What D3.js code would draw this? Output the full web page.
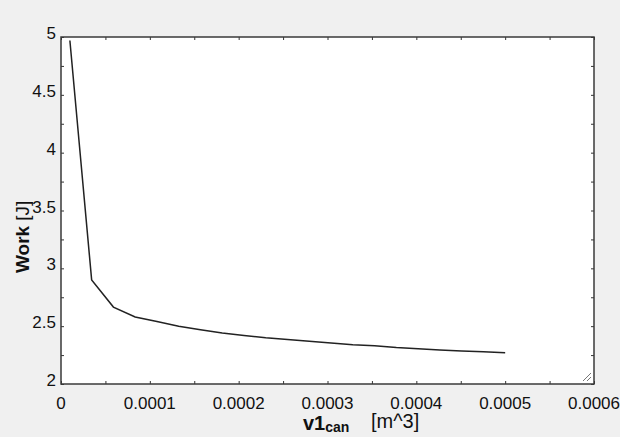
<!DOCTYPE html>
<html><head><meta charset="utf-8">
<script src="https://cdn.jsdelivr.net/npm/d3@7"></script>
<style>html,body{margin:0;padding:0;background:#f0f0f0;}svg{display:block;}</style>
</head><body>
<svg id="c" width="620" height="437"></svg>
<script>
const volumes = [0.00001,0.0000345,0.000059,0.0000835,0.000108,0.0001325,0.000157,0.0001815,0.000206,0.0002305,0.000255,0.0002795,0.000304,0.0003285,0.000353,0.0003775,0.000402,0.0004265,0.000451,0.0004755,0.0005];
const work = [4.97,2.90,2.665,2.58,2.54,2.50,2.47,2.44,2.42,2.40,2.385,2.37,2.355,2.34,2.33,2.315,2.305,2.295,2.285,2.278,2.27];
const xTicks = [0,0.0001,0.0002,0.0003,0.0004,0.0005,0.0006];
const xTickLabels = ["0","0.0001","0.0002","0.0003","0.0004","0.0005","0.0006"];
const yTicks = [2,2.5,3,3.5,4,4.5,5];
const yTickLabels = ["2","2.5","3","3.5","4","4.5","5"];

const svg = d3.select("#c");
const L=61,R=594,T=37,B=384;
const x = d3.scaleLinear().domain([0,0.0006]).range([L,R]);
const y = d3.scaleLinear().domain([2,5]).range([B,T]);
const font = "'Liberation Sans', Arial, sans-serif";

svg.append("rect").attr("width",620).attr("height",437).attr("fill","#f0f0f0");
svg.append("rect").attr("x",L).attr("y",T).attr("width",R-L).attr("height",B-T).attr("fill","#fff");

const minorX = d3.range(0,13).map(i=>i*0.00005);
const minorY = d3.range(0,13).map(i=>2+i*0.25);
const tcol="#333";
svg.append("g").attr("transform",`translate(0,${B})`)
  .call(d3.axisBottom(x).tickValues(minorX).tickSize(-3).tickFormat(""))
  .call(g=>{g.select(".domain").remove();g.selectAll("line").attr("stroke",tcol);});
svg.append("g").attr("transform",`translate(0,${T})`)
  .call(d3.axisTop(x).tickValues(minorX).tickSize(-3).tickFormat(""))
  .call(g=>{g.select(".domain").remove();g.selectAll("line").attr("stroke",tcol);});
svg.append("g").attr("transform",`translate(${L},0)`)
  .call(d3.axisLeft(y).tickValues(minorY).tickSize(-3).tickFormat(""))
  .call(g=>{g.select(".domain").remove();g.selectAll("line").attr("stroke",tcol);});
svg.append("g").attr("transform",`translate(${R},0)`)
  .call(d3.axisRight(y).tickValues(minorY).tickSize(-3).tickFormat(""))
  .call(g=>{g.select(".domain").remove();g.selectAll("line").attr("stroke",tcol);});

svg.append("g").selectAll("text").data(xTicks).join("text")
  .attr("x",d=>x(d)).attr("y",409).attr("text-anchor","middle")
  .attr("font-family",font).attr("font-size",17).attr("fill","#111")
  .text((d,i)=>xTickLabels[i]);
svg.append("g").selectAll("text").data(yTicks).join("text")
  .attr("x",56).attr("y",d=>y(d)+2).attr("text-anchor","end")
  .attr("font-family",font).attr("font-size",17).attr("fill","#111")
  .text((d,i)=>yTickLabels[i]);

const line = d3.line().x((d,i)=>x(volumes[i])).y(d=>y(d));
svg.append("path").datum(work).attr("d",line).attr("fill","none")
  .attr("stroke","#222").attr("stroke-width",1.5);

svg.append("rect").attr("x",L).attr("y",T).attr("width",R-L).attr("height",B-T)
  .attr("fill","none").attr("stroke","#3a3a3a").attr("stroke-width",1.5);

const grip = svg.append("g").attr("stroke","#777").attr("stroke-width",1);
[0,4,8].forEach(o=>grip.append("line").attr("x1",R-3-o).attr("y1",B-3).attr("x2",R-3).attr("y2",B-3-o));

const xt = svg.append("text").attr("x",303).attr("y",430).attr("font-family",font).attr("fill","#111");
xt.append("tspan").attr("font-weight","bold").attr("font-size",20).text("v1");
xt.append("tspan").attr("font-weight","bold").attr("font-size",14).attr("dy",2).text("can");
svg.append("text").attr("x",371).attr("y",428).attr("font-family",font).attr("font-size",20).attr("fill","#111").text("[m^3]");

const yt = svg.append("text").attr("transform","translate(29,273) rotate(-90)").attr("font-family",font).attr("fill","#111");
yt.append("tspan").attr("font-weight","bold").attr("font-size",19).text("Work");
yt.append("tspan").attr("font-size",19).attr("dx",5).text("[J]");
</script>
</body></html>
